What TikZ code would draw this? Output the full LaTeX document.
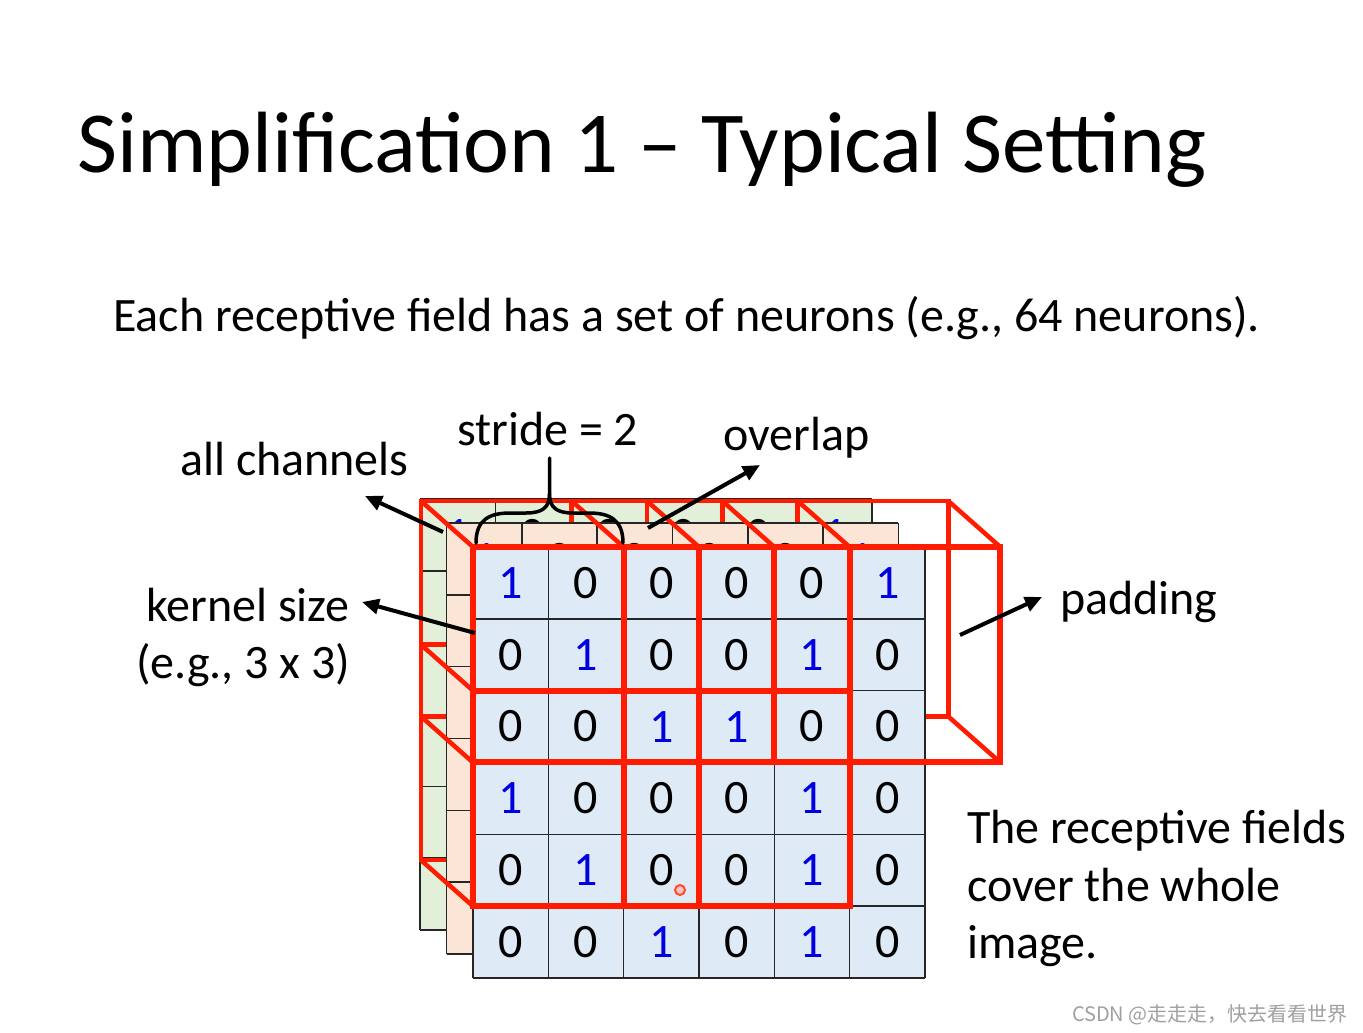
\documentclass[tikz,border=0pt]{standalone}
\usepackage{fontspec}
\setmainfont{Carlito}
\newfontfamily\cjkfont{Noto Sans CJK SC}
\usetikzlibrary{arrows.meta}
\definecolor{cellblue}{RGB}{222,235,247}
\definecolor{cellorange}{RGB}{251,229,214}
\definecolor{cellgreen}{RGB}{226,240,217}
\definecolor{boxred}{RGB}{255,28,0}
\definecolor{digitblue}{RGB}{0,0,225}
\definecolor{wmgray}{RGB}{160,160,160}
\def\cw{75.33}
\def\ch{71.83}
\def\bx{52}
\def\by{46}
\newcommand\drawlayer[4]{%
  \fill[#3] (#1,#2) rectangle ++(6*\cw,6*\ch);
  \foreach \i in {0,...,6} {
    \draw[gridline] (#1+\i*\cw,#2) -- ++(0,6*\ch);
    \draw[gridline] (#1,#2+\i*\ch) -- ++(6*\cw,0);
  }
  \foreach \rowvals [count=\r from 0] in {{1,0,0,0,0,1},{0,1,0,0,1,0},{0,0,1,1,0,0},{1,0,0,0,1,0},{0,1,0,0,1,0},{0,0,1,0,1,0}} {
    \foreach \v [count=\c from 0] in \rowvals {
      \ifnum\v=1 \def\dcol{digitblue}\else\def\dcol{black}\fi
      \node[digit,text=\dcol] (#4-\r-\c) at (#1+\c*\cw+0.5*\cw, #2+\r*\ch+0.5*\ch) {\v};
    }
  }
}
\begin{document}
\begin{tikzpicture}[x=1pt,y=-1pt,
  gridline/.style={draw=black!85, line width=1.6pt},
  digit/.style={inner sep=0pt, font=\fontsize{48}{48}\selectfont},
  redback/.style={draw=boxred, line width=4.5pt, line join=miter},
  redfront/.style={draw=boxred, line width=6pt, line join=miter},
  lbl/.style={inner sep=0pt, font=\fontsize{48}{48}\selectfont},
  arr/.style={line width=4pt, -{Triangle[length=17pt,width=15pt]}},
]
\useasboundingbox[fill=white] (0,0) rectangle (1363,1033);
% title and subtitle
\node[inner sep=0pt, anchor=base west, font=\fontsize{87}{87}\selectfont] (title) at (77,172) {Simplification 1 -- Typical Setting};
\node[inner sep=0pt, anchor=base west, font=\fontsize{48}{48}\selectfont] (sub) at (113,331) {Each receptive field has a set of neurons (e.g., 64 neurons).};
% back channel
\drawlayer{420}{499}{cellgreen}{g}
% back faces of receptive fields
\foreach \bc/\br in {0/0,2/0,4/0,0/2,2/2}
  \draw[redback] (473+\bc*\cw-\bx, 547+\br*\ch-\by) rectangle ++(3*\cw,3*\ch);
% middle channel
\drawlayer{446.5}{523}{cellorange}{o}
% connecting edges
\foreach \bc/\br in {0/0,2/0,4/0,0/2,2/2}
  \foreach \a/\b in {0/0,3/0,0/3,3/3}
    \draw[redback] (473+\bc*\cw+\a*\cw-\bx, 547+\br*\ch+\b*\ch-\by) -- ++(\bx,\by);
% front channel
\drawlayer{473}{547}{cellblue}{f}
% front faces
\foreach \bc/\br in {0/0,2/0,4/0,0/2,2/2}
  \draw[redfront] (473+\bc*\cw, 547+\br*\ch) rectangle ++(3*\cw,3*\ch);
% labels
\node[lbl, anchor=base west] (stride) at (457,445) {stride = 2};
\node[lbl, anchor=base west] (overlap) at (723,450) {overlap};
\node[lbl, anchor=base west] (allch) at (180,475) {all channels};
\node[lbl, anchor=base west] (kernel) at (146,621) {kernel size};
\node[lbl, anchor=base west] (kernel2) at (136,678) {(e.g., 3 x 3)};
\node[lbl, anchor=base west] (padding) at (1060,614) {padding};
\node[lbl, anchor=base west] (cover1) at (967,843) {The receptive fields};
\node[lbl, anchor=base west] (cover2) at (967,901) {cover the whole};
\node[lbl, anchor=base west] (cover3) at (967,958) {image.};
% arrows
\coordinate (acS) at (443,532); \coordinate (acE) at (365,496);
\coordinate (ksS) at (475,633); \coordinate (ksE) at (362,602);
\coordinate (ovS) at (648,528); \coordinate (ovE) at (760,465);
\coordinate (pdS) at (960,635); \coordinate (pdE) at (1042,597);
\draw[arr] (acS) -- (acE);
\draw[arr] (ksS) -- (ksE);
\draw[arr] (ovS) -- (ovE);
\draw[arr] (pdS) -- (pdE);
% brace
\draw[line width=3.5pt, line cap=round]
  (476,543) .. controls (476,520) and (489,513) .. (510,513) -- (526,513)
  .. controls (543,513) and (549.5,507) .. (549.5,494) -- (549.5,458);
\draw[line width=3.5pt, line cap=round]
  (623,543) .. controls (623,520) and (610,513) .. (589,513) -- (573,513)
  .. controls (556,513) and (549.5,507) .. (549.5,494);
% pointer mark
\draw[boxred!80, line width=2pt, fill=boxred!25] (680,890) circle (5);
% watermark
\node[inner sep=0pt, anchor=base east, text=wmgray, font=\cjkfont\fontsize{20}{20}\selectfont] (wm) at (1348,1021) {CSDN @走走走，快去看看世界};
\end{tikzpicture}
\end{document}
